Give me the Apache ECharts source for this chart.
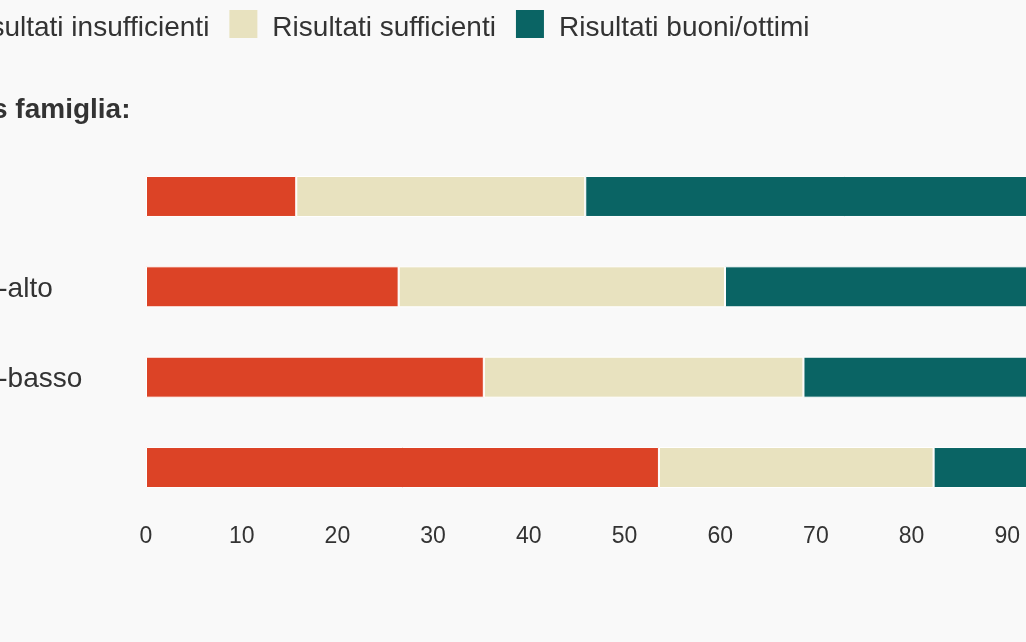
<!DOCTYPE html>
<html>
<head>
<meta charset="utf-8">
<script src="https://cdn.jsdelivr.net/npm/echarts@6/dist/echarts.min.js"></script>
<style>
html,body{margin:0;padding:0;background:#f9f9f9;overflow:hidden;width:1026px;height:642px;}
#c{position:absolute;left:-100px;top:0;width:1400px;height:642px;}
</style>
</head>
<body>
<div id="c"></div>
<script>
const categories = ["Alto", "Medio-alto", "Medio-basso", "Basso"];
const seriesNames = ["Risultati insufficienti", "Risultati sufficienti", "Risultati buoni/ottimi"];
const insufficienti = [15.7, 26.4, 35.3, 53.6];
const sufficienti = [30.2, 34.1, 33.4, 28.7];
const buoni = [54.1, 39.5, 31.3, 17.7];
const xTicks = [0, 10, 20, 30, 40, 50, 60, 70, 80, 90, 100];
const titleText = "Status famiglia:";

const colors = ["#dc4326", "#e8e2bf", "#0a6464"];
const chart = echarts.init(document.getElementById('c'), null, {renderer: 'canvas'});
const font = 'Liberation Sans, Arial, sans-serif';
const values = [insufficienti, sufficienti, buoni];

chart.setOption({
  backgroundColor: '#f9f9f9',
  animation: false,
  color: colors,
  textStyle: {fontFamily: font, color: '#333'},
  title: {
    text: titleText,
    left: 22,
    top: 96,
    padding: 0,
    textStyle: {fontFamily: font, fontSize: 28, fontWeight: 'bold', color: '#333'}
  },
  legend: {
    left: 21,
    top: 10,
    padding: 0,
    itemWidth: 28,
    itemHeight: 28,
    itemGap: 20,
    icon: 'rect',
    itemStyle: {borderWidth: 0},
    formatter: '{a|{name}}',
    textStyle: {
      fontFamily: font, fontSize: 28, color: '#333',
      rich: {a: {fontFamily: font, fontSize: 28, color: '#333', padding: [8, 0, 0, 10]}}
    },
    data: seriesNames
  },
  grid: {left: 246, top: 151.3, width: 957, height: 361.4, containLabel: false},
  xAxis: {
    type: 'value',
    min: xTicks[0],
    max: xTicks[xTicks.length - 1],
    interval: 10,
    axisLine: {show: false},
    axisTick: {show: false},
    splitLine: {show: false},
    axisLabel: {fontFamily: font, fontSize: 23, color: '#333', margin: 12}
  },
  yAxis: {
    type: 'category',
    data: categories,
    inverse: true,
    axisLine: {show: false},
    axisTick: {show: false},
    splitLine: {show: false},
    axisLabel: {
      fontFamily: font, fontSize: 28, color: '#333', align: 'left', margin: 224,
      formatter: '{a|{value}}',
      rich: {a: {fontFamily: font, fontSize: 28, color: '#333', padding: [5, 0, 0, 0]}}
    }
  },
  series: seriesNames.map((n, i) => ({
    name: n,
    type: 'bar',
    stack: 'tot',
    barWidth: 41,
    data: values[i],
    itemStyle: {color: colors[i], borderColor: '#ffffff', borderWidth: 1}
  }))
});
</script>
</body>
</html>
